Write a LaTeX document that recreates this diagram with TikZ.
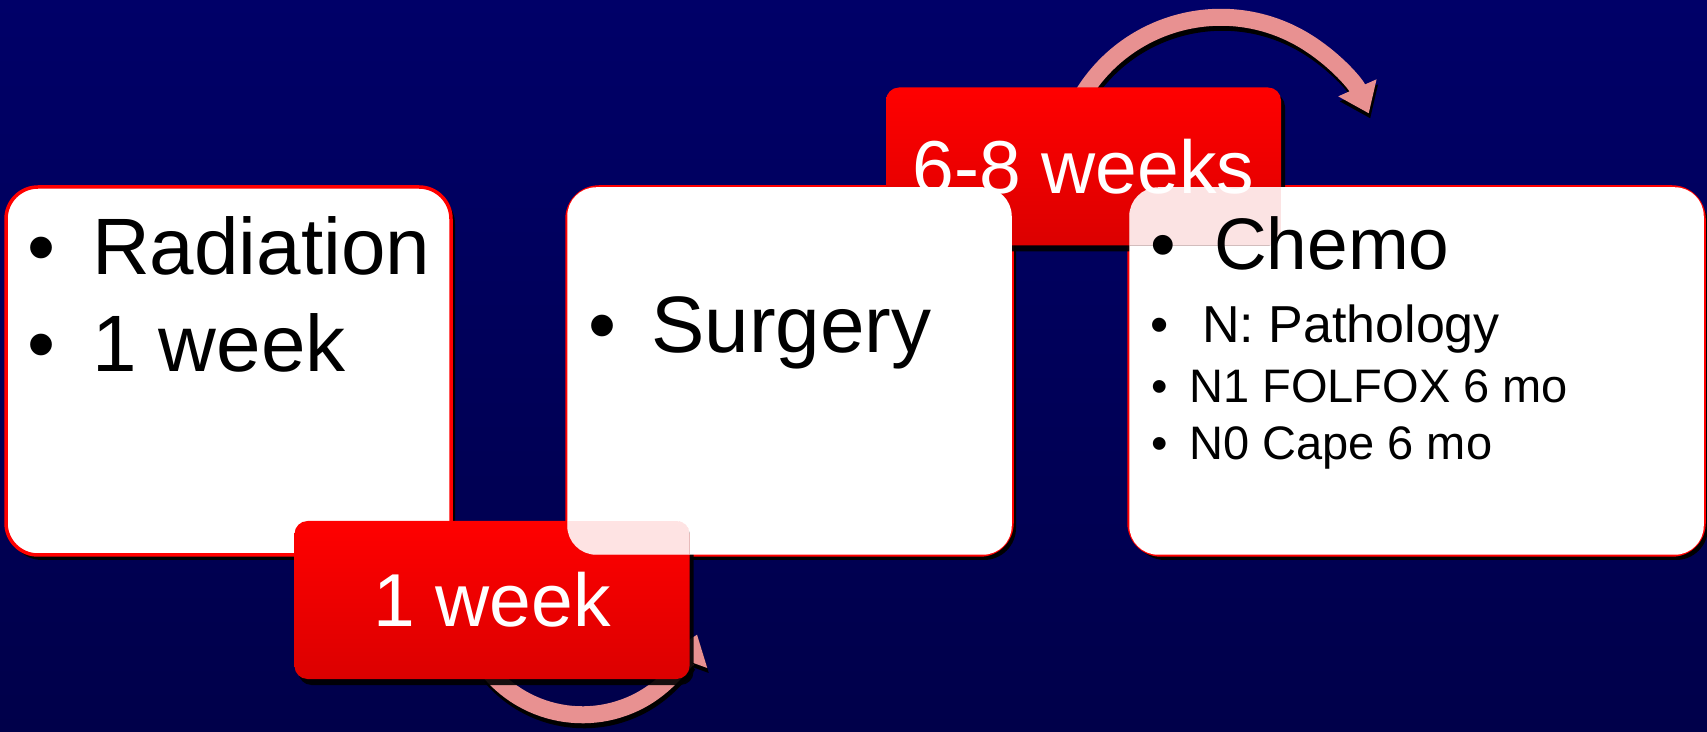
\documentclass[tikz,border=0pt]{standalone}
\usepackage{fontspec}
\setmainfont{Liberation Sans}
\usetikzlibrary{arrows.meta,shadows,backgrounds}
\newcommand\itemdot[1]{\makebox[#1][l]{\textbullet}}

\begin{document}
\begin{tikzpicture}[
  x=1pt, y=1pt,
  stage/.style={
    draw=red, line width=3.5pt, fill=white, rounded corners=32pt,
    minimum width=445pt, minimum height=368pt, inner sep=0pt,
    drop shadow={shadow xshift=4pt, shadow yshift=-5pt, fill=black, opacity=1}
  },
  wait/.style={
    rounded corners=13pt, top color=red, bottom color=red!86!black,
    minimum width=395pt, minimum height=158pt, inner sep=0pt,
    text=white, font=\fontsize{75}{90}\selectfont,
    drop shadow={shadow xshift=4pt, shadow yshift=-6pt, fill=black, opacity=.9}
  },
  item/.style={anchor=base west, inner sep=0pt, text=black},
  curvearrow/.style={draw=Carr, line width=17pt, -{Triangle[length=28pt,width=40pt]}},
  curveshadow/.style={curvearrow, draw=black}
]
\definecolor{Cbgtop}{RGB}{0,0,104}
\definecolor{Cbgbot}{RGB}{0,0,74}
\definecolor{Carr}{RGB}{232,145,145}
\useasboundingbox (0,0) rectangle (1707,731);
\begin{pgfonlayer}{background}
\fill[top color=Cbgtop, bottom color=Cbgbot] (0,0) rectangle (1707,731);
\end{pgfonlayer}
%% STAGES
\node[stage] (rad)   at (228.5,360) {};
\node[stage] (surg)  at (789.5,360) {};
\node[stage, minimum width=575pt] (chemo) at (1416.5,360) {};
%% INTERVALS
\node[wait] (wk1) at (492,131)      {1 week};
\node[wait] (wk2) at (1083.5,564.5) {6-8 weeks};
%% CURVED ARROWS (behind the intervals)
\begin{pgfonlayer}{background}
\draw[curveshadow] ([xshift=-1.5pt,yshift=-16pt]wk2.north) arc[start angle=150, end angle=24, radius=162];
\draw[curvearrow]  ([xshift=-3pt,yshift=-11pt]wk2.north)   arc[start angle=150, end angle=24, radius=162];
\draw[curveshadow] ([xshift=-1.5pt,yshift=3pt]wk1.south)   arc[start angle=220, end angle=340, radius=122];
\draw[curvearrow]  ([xshift=-3pt,yshift=8pt]wk1.south)     arc[start angle=220, end angle=340, radius=122];
\end{pgfonlayer}
%% STAGES LYING OVER THE INTERVALS
\begin{scope}
  \clip[rounded corners=29pt] ([shift={(2pt,2pt)}]surg.south west) rectangle ([shift={(-2pt,-2pt)}]surg.north east);
  \fill[white, even odd rule] ([shift={(2pt,2pt)}]surg.south west) rectangle ([shift={(-2pt,-2pt)}]surg.north east)
    [rounded corners=13pt] (wk1.south west) rectangle (wk1.north east);
  \fill[white, fill opacity=.89, rounded corners=13pt] (wk1.south west) rectangle (wk1.north east);
\end{scope}
\begin{scope}
  \clip[rounded corners=29pt] ([shift={(2pt,2pt)}]chemo.south west) rectangle ([shift={(-2pt,-2pt)}]chemo.north east);
  \fill[white, even odd rule] ([shift={(2pt,2pt)}]chemo.south west) rectangle ([shift={(-2pt,-2pt)}]chemo.north east)
    [rounded corners=13pt] (wk2.south west) rectangle (wk2.north east);
  \fill[white, fill opacity=.89, rounded corners=13pt] (wk2.south west) rectangle (wk2.north east);
\end{scope}
%% BULLETS
\node[item, font=\fontsize{80}{96}\selectfont] (rad1)   at (27,456)   {\itemdot{65pt}Radiation};
\node[item, font=\fontsize{80}{96}\selectfont] (rad2)   at (27,359)   {\itemdot{65pt}1 week};
\node[item, font=\fontsize{80}{96}\selectfont] (surg1)  at (588,378)  {\itemdot{63pt}Surgery};
\node[item, font=\fontsize{73}{88}\selectfont] (chemo1) at (1150,461) {\itemdot{64pt}Chemo};
\node[item, font=\fontsize{52}{62}\selectfont] (chemo2) at (1150,388) {\itemdot{52pt}N: Pathology};
\node[item, font=\fontsize{47}{56}\selectfont] (chemo3) at (1151,328) {\itemdot{38pt}N1 FOLFOX 6 mo};
\node[item, font=\fontsize{47}{56}\selectfont] (chemo4) at (1151,271) {\itemdot{38pt}N0 Cape 6 mo};
\end{tikzpicture}
\end{document}
